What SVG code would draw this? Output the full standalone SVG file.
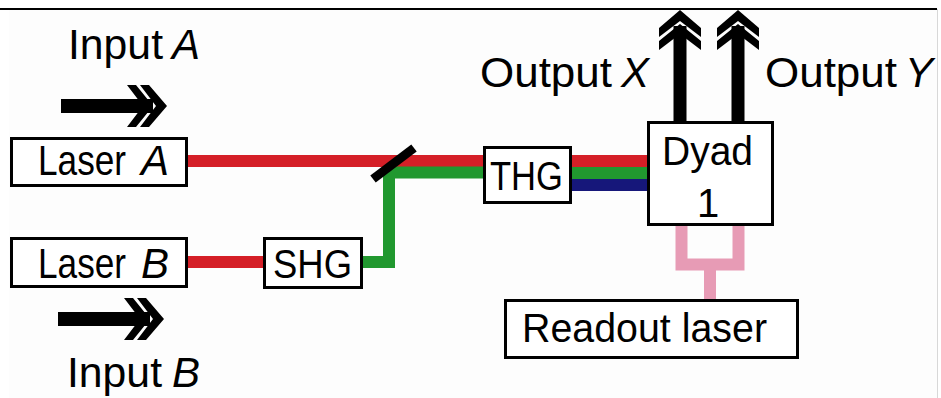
<svg xmlns="http://www.w3.org/2000/svg" width="941" height="398" viewBox="0 0 941 398">
<style>
.box{fill:#ffffff;stroke:#000000;stroke-width:3}
.t{font-family:"Liberation Sans",Arial,sans-serif;font-size:40px;fill:#000000}
.big{font-size:42px}
.i{font-style:italic}
.beam{fill:none;stroke-width:12;stroke-linejoin:miter;stroke-linecap:butt}
.red{stroke:#d51f27}
.green{stroke:#21982f}
.blue{stroke:#16177a}
.pink{stroke:#e79bb5}
</style>
<defs>
<g id="head">
<polygon points="0,0 -18,-21 -27,-21 -11,0 -27,21 -18,21" fill="#000"/>
<polygon points="-14,0 -31,-21 -40,-21 -24,0 -40,21 -31,21" fill="#000"/>
</g>
</defs>
<rect x="9" y="9" width="928" height="389" fill="#fdfdfd"/>
<line x1="0" y1="9" x2="937" y2="9" stroke="#000" stroke-width="2"/>
<line x1="937.5" y1="9" x2="937.5" y2="398" stroke="#d8d8d8" stroke-width="1"/>

<g id="connectors">
<line class="beam red" x1="187" y1="161" x2="486" y2="161"/>
<line class="beam red" x1="187" y1="262" x2="266" y2="262"/>
<polyline class="beam green" points="360,262 389,262 389,172.5 486,172.5"/>
<line x1="373" y1="179" x2="414" y2="148" stroke="#000" stroke-width="9"/>
<line class="beam red" x1="569" y1="161" x2="650" y2="161"/>
<line class="beam green" x1="569" y1="173" x2="650" y2="173"/>
<line class="beam blue" x1="569" y1="185" x2="650" y2="185"/>
<polyline class="beam pink" points="681.5,223 681.5,264.5 738.5,264.5 738.5,223" stroke-width="11"/>
<line class="beam pink" x1="710" y1="264" x2="710" y2="301" stroke-width="11"/>
</g>

<g id="input-a">
<text class="t big" x="68" y="59" textLength="95" lengthAdjust="spacingAndGlyphs">Input</text>
<text class="t big i" x="172" y="59">A</text>
<rect x="61" y="99" width="92" height="14" fill="#000"/>
<use href="#head" transform="translate(167,106)"/>
</g>

<g id="input-b">
<rect x="58" y="312" width="92" height="14" fill="#000"/>
<use href="#head" transform="translate(164,319)"/>
<text class="t big" x="67" y="387" textLength="95" lengthAdjust="spacingAndGlyphs">Input</text>
<text class="t big i" x="172" y="387">B</text>
</g>

<g id="laser-a">
<rect class="box" x="11.5" y="138.5" width="175" height="47"/>
<text class="t big" x="38" y="175" textLength="88" lengthAdjust="spacingAndGlyphs">Laser</text>
<text class="t big i" x="141" y="175">A</text>
</g>

<g id="laser-b">
<rect class="box" x="11.5" y="238.5" width="175" height="48"/>
<text class="t big" x="38" y="278" textLength="88" lengthAdjust="spacingAndGlyphs">Laser</text>
<text class="t big i" x="141" y="278">B</text>
</g>

<g id="shg">
<rect class="box" x="264.5" y="238.5" width="97" height="49"/>
<text class="t" x="273" y="278" textLength="79" lengthAdjust="spacingAndGlyphs">SHG</text>
</g>

<g id="thg">
<rect class="box" x="484.5" y="147.5" width="86" height="55"/>
<text class="t" x="490" y="190" textLength="73" lengthAdjust="spacingAndGlyphs">THG</text>
</g>

<g id="dyad">
<rect class="box" x="648.5" y="122.5" width="124" height="102"/>
<text class="t" x="662" y="165" textLength="91" lengthAdjust="spacingAndGlyphs">Dyad</text>
<text class="t" x="708" y="217" text-anchor="middle">1</text>
</g>

<g id="output-x">
<rect x="673.5" y="26" width="13" height="96" fill="#000"/>
<use href="#head" transform="translate(680,10) rotate(-90)"/>
<text class="t big" x="480" y="87" textLength="132" lengthAdjust="spacingAndGlyphs">Output</text>
<text class="t big i" x="621" y="87">X</text>
</g>

<g id="output-y">
<rect x="731.5" y="26" width="13" height="96" fill="#000"/>
<use href="#head" transform="translate(738,10) rotate(-90)"/>
<text class="t big" x="765" y="87" textLength="132" lengthAdjust="spacingAndGlyphs">Output</text>
<text class="t big i" x="905" y="87">Y</text>
</g>

<g id="readout-laser">
<rect class="box" x="505.5" y="300.5" width="292" height="57"/>
<text class="t" x="522" y="342" textLength="245" lengthAdjust="spacingAndGlyphs">Readout laser</text>
</g>
</svg>
